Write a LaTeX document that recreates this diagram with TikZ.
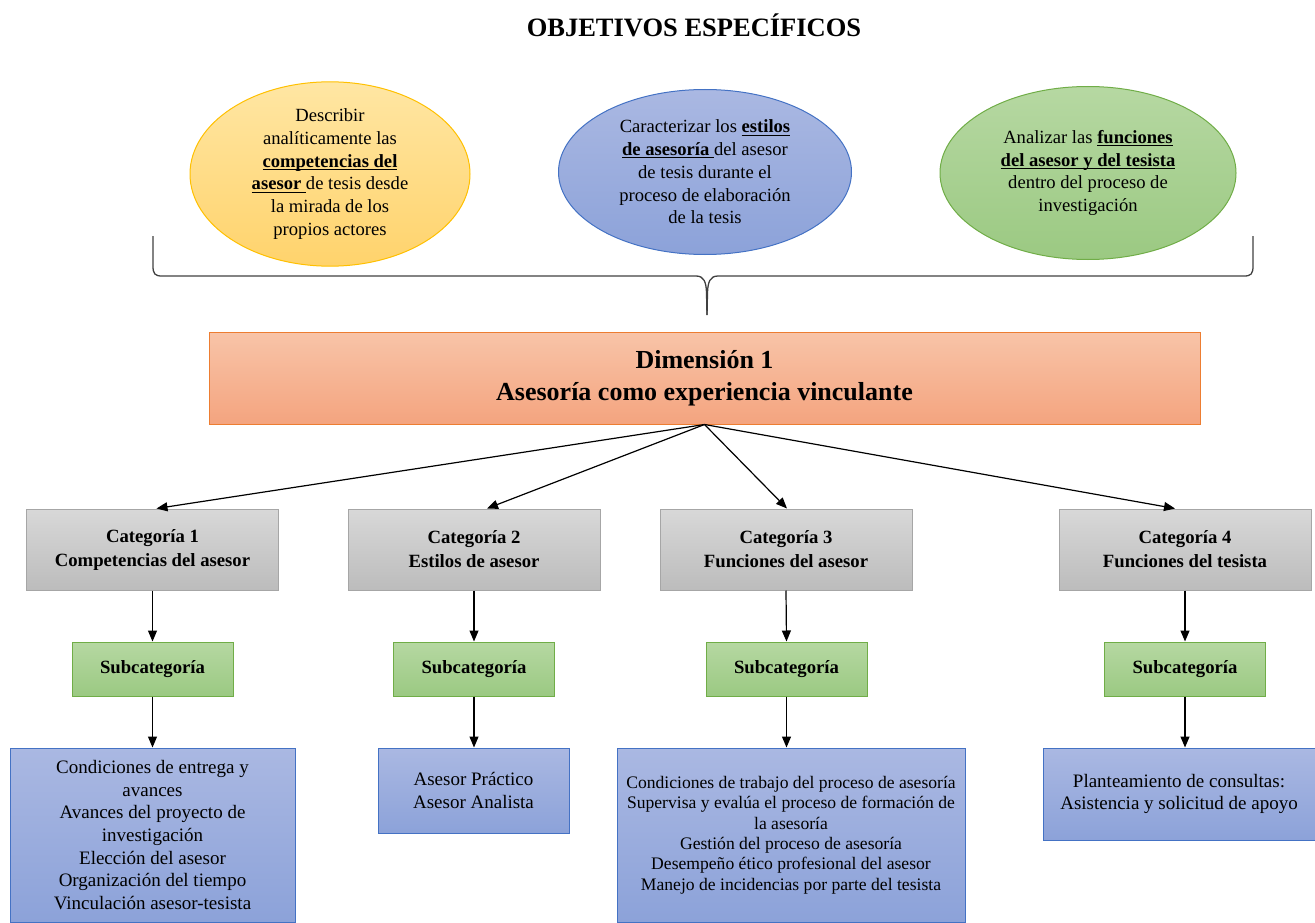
\documentclass[tikz,border=0pt]{standalone}
\usepackage{fontspec}
\setmainfont{Liberation Serif}
\usetikzlibrary{shapes.geometric,arrows.meta}

% underline at a fixed depth below the baseline
\newcommand\undl[1]{\setbox0\hbox{#1}\rlap{\rule[-2.8pt]{\wd0}{1pt}}\box0}

\definecolor{ylwTop}{HTML}{FFE6A3}
\definecolor{ylwBot}{HTML}{FFD36C}
\definecolor{ylwLine}{HTML}{FFC000}
\definecolor{bluTop}{HTML}{AAB8E2}
\definecolor{bluBot}{HTML}{8CA2D9}
\definecolor{bluLine}{HTML}{4472C4}
\definecolor{grnTop}{HTML}{B6D8A2}
\definecolor{grnBot}{HTML}{9BC982}
\definecolor{grnLine}{HTML}{70AD47}
\definecolor{orgTop}{HTML}{F8C4A8}
\definecolor{orgBot}{HTML}{F4A47F}
\definecolor{orgLine}{HTML}{ED7D31}
\definecolor{gryTop}{HTML}{D8D8D8}
\definecolor{gryBot}{HTML}{BCBCBC}
\definecolor{gryLine}{HTML}{A6A6A6}
\definecolor{braceCol}{HTML}{404040}

\tikzset{
  txt/.style={font=\fontsize{18.6}{22.7}\selectfont, align=center, inner sep=0pt},
  objective/.style={ellipse, txt, line width=1pt, minimum width=#1},
  yellowobj/.style={objective=280pt, minimum height=177pt, draw=ylwLine, top color=ylwTop, bottom color=ylwBot},
  blueobj/.style={objective=293pt, minimum height=165pt, draw=bluLine, top color=bluTop, bottom color=bluBot},
  greenobj/.style={objective=296pt, minimum height=173pt, draw=grnLine, top color=grnTop, bottom color=grnBot},
  dimbox/.style={rectangle, draw=orgLine, line width=1pt, top color=orgTop, bottom color=orgBot,
    minimum width=991pt, minimum height=92pt, align=center, inner sep=0pt,
    font=\bfseries\fontsize{26}{32}\selectfont},
  catbox/.style={rectangle, draw=gryLine, line width=1pt, top color=gryTop, bottom color=gryBot,
    minimum width=252pt, minimum height=81pt, align=center, inner sep=0pt,
    font=\bfseries\fontsize{18.7}{24}\selectfont},
  subbox/.style={rectangle, draw=grnLine, line width=1pt, top color=grnTop, bottom color=grnBot,
    minimum width=161pt, minimum height=54pt, inner sep=0pt,
    font=\bfseries\fontsize{18.7}{22}\selectfont},
  leafbox/.style={rectangle, draw=bluLine, line width=1pt, top color=bluTop, bottom color=bluBot,
    align=center, inner sep=0pt, font=\fontsize{19}{22.6}\selectfont},
  link/.style={draw=black, line width=1.2pt, -{Triangle[length=11pt,width=9pt]}},
}

\begin{document}
\begin{tikzpicture}[x=1pt, y=-1pt]
\useasboundingbox (0,0) rectangle (1315,923);

% title
\node[font=\bfseries\fontsize{26.5}{30}\selectfont] (title) at (694,25) {OBJETIVOS ESPECÍFICOS};

% specific objectives
\node[yellowobj] (obj1) at (330,174) {Describir\\analíticamente las\\\undl{\textbf{competencias del}}\\\undl{\textbf{asesor} }de tesis desde\\la mirada de los\\propios actores};
\node[blueobj] (obj2) at (705,172) {Caracterizar los \undl{\textbf{estilos}}\\\undl{\textbf{de asesoría} }del asesor\\de tesis durante el\\proceso de elaboración\\de la tesis};
\node[greenobj] (obj3) at (1088,173) {Analizar las \undl{\textbf{funciones}}\\\undl{\textbf{del asesor y del tesista}}\\dentro del proceso de\\investigación};

% curly brace gathering the objectives
\coordinate (braceTip) at (707,315);
\draw[braceCol, line width=1.3pt]
  (153,236) -- (153,266) .. controls (153,274) and (155,276) .. (162,276)
  -- (696,276) .. controls (704,276) and (706,282) .. (706.5,292) -- (braceTip);
\draw[braceCol, line width=1.3pt]
  (1253,236) -- (1253,266) .. controls (1253,274) and (1251,276) .. (1244,276)
  -- (718,276) .. controls (710,276) and (708,282) .. (707.5,292) -- (braceTip);

% dimension
\node[dimbox] (dim) at (704.5,378) {Dimensión 1\\Asesoría como experiencia vinculante};

% categories
\node[catbox] (cat1) at (152.5,549.5) {Categoría 1\\Competencias del asesor};
\node[catbox] (cat2) at (474,549.5) {Categoría 2\\Estilos de asesor};
\node[catbox] (cat3) at (786,549.5) {Categoría 3\\Funciones del asesor};
\node[catbox] (cat4) at (1185,549.5) {Categoría 4\\Funciones del tesista};

% subcategories
\node[subbox] (sub1) at (152.5,669) {Subcategoría};
\node[subbox] (sub2) at (474,669) {Subcategoría};
\node[subbox] (sub3) at (786.5,669) {Subcategoría};
\node[subbox] (sub4) at (1185,669) {Subcategoría};

% subcategory contents
\node[leafbox, minimum width=285pt, minimum height=174pt] (leaf1) at (152.5,835)
  {Condiciones de entrega y\\avances\\Avances del proyecto de\\investigación\\Elección del asesor\\Organización del tiempo\\Vinculación asesor-tesista};
\node[leafbox, minimum width=191pt, minimum height=85pt] (leaf2) at (473.5,790.5)
  {Asesor Práctico\\Asesor Analista};
\node[leafbox, minimum width=348pt, minimum height=174pt, font=\fontsize{17.6}{20.4}\selectfont] (leaf3) at (791,835)
  {Condiciones de trabajo del proceso de asesoría\\Supervisa y evalúa el proceso de formación de\\la asesoría\\Gestión del proceso de asesoría\\Desempeño ético profesional del asesor\\Manejo de incidencias por parte del tesista};
\node[leafbox, minimum width=272pt, minimum height=92pt] (leaf4) at (1179,794)
  {Planteamiento de consultas:\\Asistencia y solicitud de apoyo};

% connectors
\draw[link] (dim.south) -- ([xshift=4pt]cat1.north);
\draw[link] (dim.south) -- ([xshift=13pt]cat2.north);
\draw[link] (dim.south) -- ([xshift=1pt]cat3.north);
\draw[link] (dim.south) -- ([xshift=-10pt]cat4.north);

\foreach \i in {1,2,3,4} {
  \draw[link] (cat\i.south) -- (sub\i.north);
  \draw[link] (sub\i.south) -- (leaf\i.north -| sub\i.south);
}
\end{tikzpicture}
\end{document}
